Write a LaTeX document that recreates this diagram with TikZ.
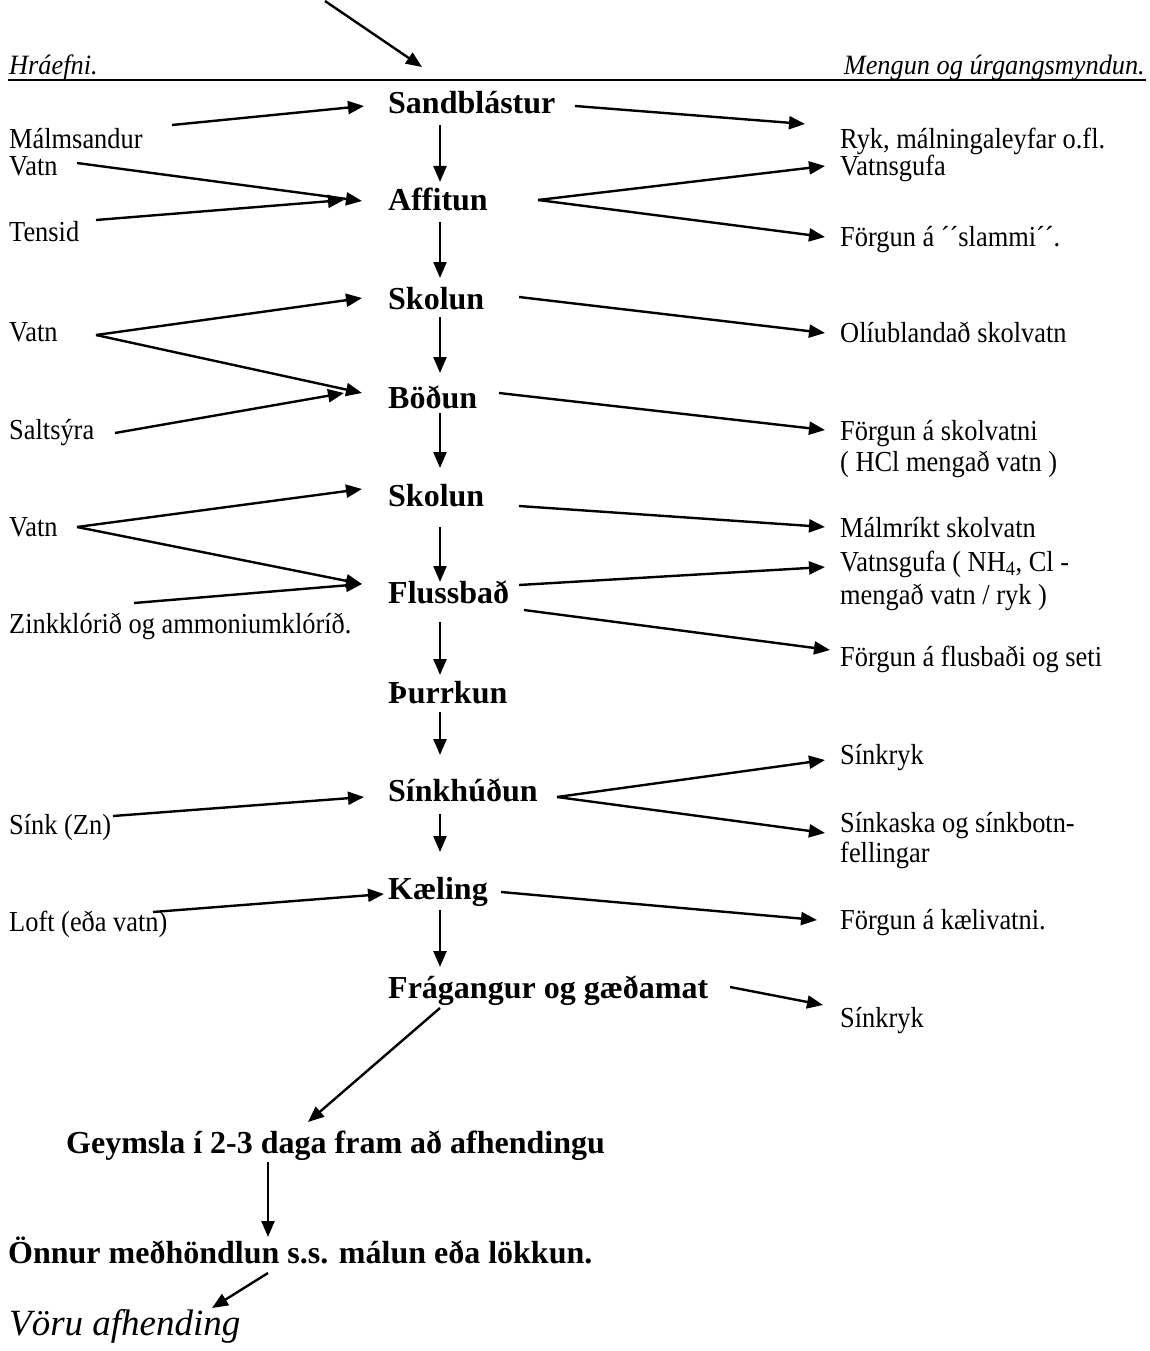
\documentclass[tikz,border=0pt]{standalone}
\usepackage{fontspec}
\setmainfont{Liberation Serif}
\newfontfamily\cond[FakeStretch=0.91]{Liberation Serif}
\newfontfamily\condh[FakeStretch=0.94]{Liberation Serif}
\usetikzlibrary{arrows.meta}
\begin{document}
\begin{tikzpicture}[x=1pt,y=-1pt,
  arr/.style={line width=2.4pt,-{Triangle[length=16pt,width=13pt]}},
  lbl/.style={anchor=base west,inner sep=0pt,font=\cond\fontsize{29}{30}\selectfont},
  proc/.style={anchor=base west,inner sep=0pt,font=\fontsize{32}{33}\selectfont\bfseries},
  hdr/.style={inner sep=0pt,font=\condh\fontsize{28}{30}\selectfont\itshape}]
\useasboundingbox (0,0) rectangle (1149,1351);
% header
\node[hdr,anchor=base west] (hraef) at (9,75) {Hráefni.};
\node[hdr,anchor=base east] (meng) at (1145,75) {Mengun og úrgangsmyndun.};
\coordinate (hl1) at (8,80);
\coordinate (hl2) at (1146,80);
\draw[line width=2pt] (hl1) -- (hl2);
\coordinate (top0) at (325,1);
\coordinate (top1) at (422,67);
\draw[arr] (top0) -- (top1);

% process steps
\node[proc] (sb)  at (388,114)  {Sandblástur};
\node[proc] (aff) at (388,211)  {Affitun};
\node[proc] (sk1) at (388,309)  {Skolun};
\node[proc] (bod) at (388,408)  {Böðun};
\node[proc] (sk2) at (388,506)  {Skolun};
\node[proc] (flu) at (388,603)  {Flussbað};
\node[proc] (thu) at (388,703)  {Þurrkun};
\node[proc] (sin) at (388,801)  {Sínkhúðun};
\node[proc] (kae) at (388,899)  {Kæling};
\node[proc] (fra) at (388,998)  {Frágangur og gæðamat};
\node[proc] (gey) at (66,1153)  {Geymsla í 2-3 daga fram að afhendingu};
\node[proc] (onn) at (8,1263)   {Önnur meðhöndlun s.s. málun eða lökkun.};
\node[anchor=base west,inner sep=0pt,font=\fontsize{37}{40}\selectfont\itshape] (vor) at (9,1335) {Vöru afhending};

% left inputs
\node[lbl] (mal)  at (9,149) {Málmsandur};
\node[lbl] (vat1) at (9,176) {Vatn};
\node[lbl] (ten)  at (9,241) {Tensid};
\node[lbl] (vat2) at (9,341) {Vatn};
\node[lbl] (sal)  at (9,439) {Saltsýra};
\node[lbl] (vat3) at (9,536) {Vatn};
\node[lbl] (zin)  at (9,633) {Zinkklórið og ammoniumklóríð.};
\node[lbl] (sink) at (9,834) {Sínk (Zn)};
\node[lbl] (loft) at (9,931) {Loft (eða vatn)};

% right outputs
\node[lbl] (ryk)  at (840,149) {Ryk, málningaleyfar o.fl.};
\node[lbl] (vg1)  at (840,176) {Vatnsgufa};
\node[lbl] (fsl)  at (840,246) {Förgun á ´´slammi´´.};
\node[lbl] (oli)  at (840,342) {Olíublandað skolvatn};
\node[lbl] (fsk)  at (840,440) {Förgun á skolvatni};
\node[lbl] (hcl)  at (840,471) {( HCl mengað vatn )};
\node[lbl] (mrs)  at (840,537) {Málmríkt skolvatn};
\node[lbl] (vg2)  at (840,571) {Vatnsgufa ( NH\textsubscript{4}, Cl -};
\node[lbl] (men)  at (840,604) {mengað vatn / ryk )};
\node[lbl] (ffl)  at (840,666) {Förgun á flusbaði og seti};
\node[lbl] (sr1)  at (840,764) {Sínkryk};
\node[lbl] (ska)  at (840,832) {Sínkaska og sínkbotn-};
\node[lbl] (fel)  at (840,862) {fellingar};
\node[lbl] (fka)  at (840,929) {Förgun á kælivatni.};
\node[lbl] (sr2)  at (840,1027) {Sínkryk};

% vertical flow
\foreach \a/\b/\ya/\yb in {sb/aff/125/182, aff/sk1/222/278, sk1/bod/317/373, bod/sk2/413/468, sk2/flu/527/582, flu/thu/622/675, thu/sin/712/755, sin/kae/814/852, kae/fra/910/967}{
  \coordinate (\a-d) at (440,\ya);
  \coordinate (\b-u) at (440,\yb);
  \draw[arr] (\a-d) -- (\b-u);
}
\coordinate (fra-d) at (440,1008);
\coordinate (gey-u) at (308,1122);
\draw[arr] (fra-d) -- (gey-u);
\coordinate (gey-d) at (268,1162);
\coordinate (onn-u) at (268,1237);
\draw[arr] (gey-d) -- (onn-u);
\coordinate (onn-d) at (268,1273);
\coordinate (vor-u) at (212,1308);
\draw[arr] (onn-d) -- (vor-u);

% left arrows
\coordinate (mal-o) at (172,125);  \coordinate (sb-i) at (364,106);
\draw[arr] (mal-o) -- (sb-i);
\coordinate (vat1-o) at (77,163);  \coordinate (aff-i1) at (362,201);
\draw[arr] (vat1-o) -- (aff-i1);
\coordinate (ten-o) at (96,220);   \coordinate (aff-i2) at (344,200);
\draw[arr] (ten-o) -- (aff-i2);
\coordinate (vat2-o) at (96,335);  \coordinate (sk1-i) at (362,298); \coordinate (bod-i1) at (362,393);
\draw[arr] (vat2-o) -- (sk1-i);
\draw[arr] (vat2-o) -- (bod-i1);
\coordinate (sal-o) at (115,433);  \coordinate (bod-i2) at (344,393);
\draw[arr] (sal-o) -- (bod-i2);
\coordinate (vat3-o) at (77,527);  \coordinate (sk2-i) at (362,489); \coordinate (flu-i) at (362,584);
\draw[arr] (vat3-o) -- (sk2-i);
\draw[arr] (vat3-o) -- (flu-i);
\coordinate (zin-o) at (134,603);
\draw[arr] (zin-o) -- (flu-i);
\coordinate (sink-o) at (113,816); \coordinate (sin-i) at (364,797);
\draw[arr] (sink-o) -- (sin-i);
\coordinate (loft-o) at (153,912); \coordinate (kae-i) at (384,894);
\draw[arr] (loft-o) -- (kae-i);

% right arrows
\coordinate (sb-o) at (575,106);  \coordinate (ryk-i) at (805,124);
\draw[arr] (sb-o) -- (ryk-i);
\coordinate (aff-o) at (538,200); \coordinate (vg1-i) at (825,166); \coordinate (fsl-i) at (825,237);
\draw[arr] (aff-o) -- (vg1-i);
\draw[arr] (aff-o) -- (fsl-i);
\coordinate (sk1-o) at (519,297); \coordinate (oli-i) at (825,333);
\draw[arr] (sk1-o) -- (oli-i);
\coordinate (bod-o) at (499,393); \coordinate (fsk-i) at (825,430);
\draw[arr] (bod-o) -- (fsk-i);
\coordinate (sk2-o) at (519,506); \coordinate (mrs-i) at (825,527);
\draw[arr] (sk2-o) -- (mrs-i);
\coordinate (flu-o1) at (519,585); \coordinate (vg2-i) at (825,567);
\draw[arr] (flu-o1) -- (vg2-i);
\coordinate (flu-o2) at (524,610); \coordinate (ffl-i) at (830,650);
\draw[arr] (flu-o2) -- (ffl-i);
\coordinate (sin-o) at (557,797); \coordinate (sr1-i) at (825,760); \coordinate (ska-i) at (825,833);
\draw[arr] (sin-o) -- (sr1-i);
\draw[arr] (sin-o) -- (ska-i);
\coordinate (kae-o) at (501,892); \coordinate (fka-i) at (817,920);
\draw[arr] (kae-o) -- (fka-i);
\coordinate (fra-o) at (730,987); \coordinate (sr2-i) at (823,1005);
\draw[arr] (fra-o) -- (sr2-i);
\end{tikzpicture}
\end{document}
